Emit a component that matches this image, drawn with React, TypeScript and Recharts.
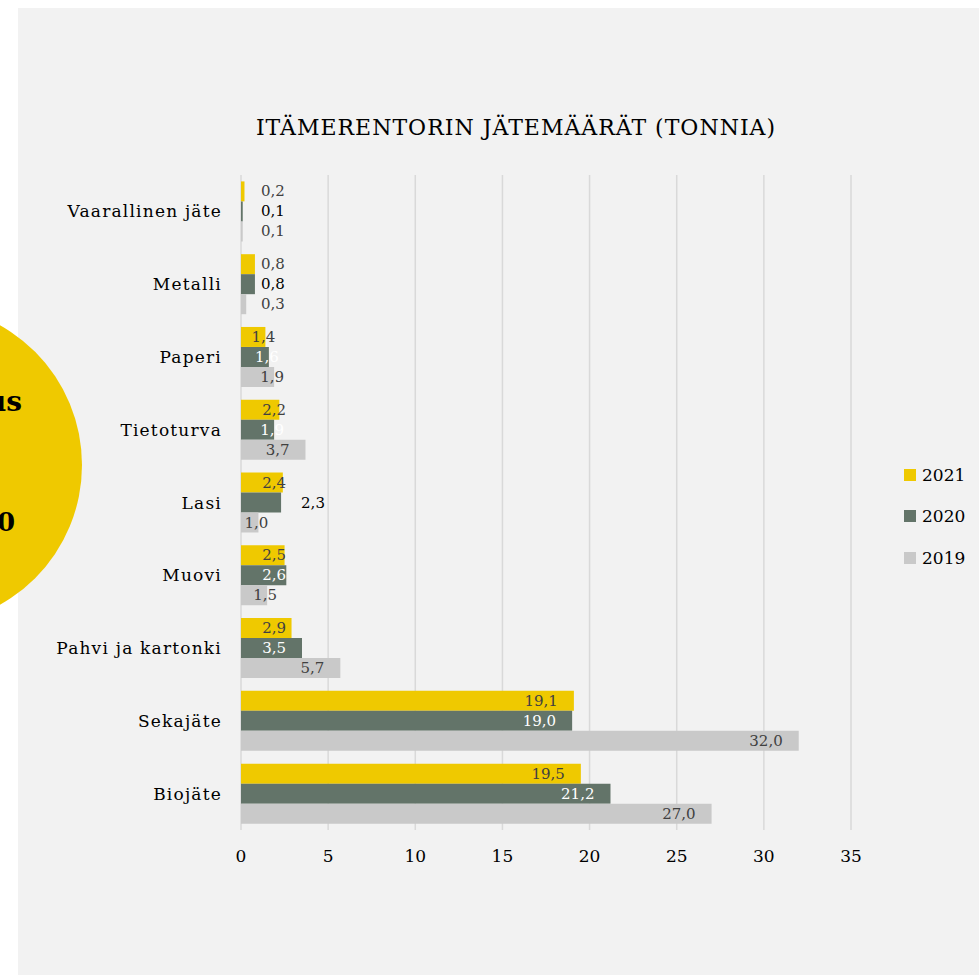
import React from 'react';
import { BarChart, Bar, XAxis, YAxis, CartesianGrid, Legend, LabelList } from 'recharts';

const categories = ['Vaarallinen jäte', 'Metalli', 'Paperi', 'Tietoturva', 'Lasi', 'Muovi', 'Pahvi ja kartonki', 'Sekajäte', 'Biojäte'];
const values2021 = [0.2, 0.8, 1.4, 2.2, 2.4, 2.5, 2.9, 19.1, 19.5];
const values2020 = [0.1, 0.8, 1.6, 1.9, 2.3, 2.6, 3.5, 19.0, 21.2];
const values2019 = [0.1, 0.3, 1.9, 3.7, 1.0, 1.5, 5.7, 32.0, 27.0];
const xTicks = [0, 5, 10, 15, 20, 25, 30, 35];
const title = 'ITÄMERENTORIN JÄTEMÄÄRÄT (TONNIA)';
const legendOrder = ['2021', '2020', '2019'];

const data = categories.map((name, i) => ({
  name,
  y2021: values2021[i],
  y2020: values2020[i],
  y2019: values2019[i],
}));

const FONT = '"DejaVu Serif", serif';
const YELLOW = '#EFC900';
const DARK = '#637469';
const LIGHT = '#C9C9C9';

// labels Excel pushed outside the bar (series:index)
const OUTSIDE = new Set(['2020:4']);

const makeLabel = (series: string, insideColor: string, outsideColor: string) => (props: any) => {
  const vb = props.viewBox || props;
  const x0 = Number(vb.x);
  const end = x0 + Number(vb.width);
  const cy = Number(vb.y) + Number(vb.height) / 2;
  const v = Number(props.value);
  const text = v.toFixed(1).replace('.', ',');
  const outside = v < 1 || OUTSIDE.has(`${series}:${props.index}`);
  let x = 0;
  let anchor: 'start' | 'middle' | 'end' = 'end';
  let fill = insideColor;
  if (outside) {
    x = (v < 1 ? x0 : end) + 20;
    anchor = 'start';
    fill = outsideColor;
  } else if (v < 2) {
    x = end - 2;
    anchor = 'middle';
  } else {
    x = Math.max(end - 16, x0 + 45);
  }
  return (
    <text x={x} y={cy} textAnchor={anchor} dominantBaseline="central" fill={fill} fontSize={15} fontFamily={FONT}>
      {text}
    </text>
  );
};

const renderLegend = (props: any) => {
  const items = (props.payload || []).slice().sort(
    (a: any, b: any) => legendOrder.indexOf(String(a.value)) - legendOrder.indexOf(String(b.value)),
  );
  return (
    <div style={{ fontFamily: FONT }}>
      {items.map((it: any) => (
        <div key={it.value} style={{ display: 'flex', alignItems: 'center', height: 41.5 }}>
          <span style={{ width: 12, height: 12, background: it.color, display: 'inline-block', marginRight: 6 }} />
          <span style={{ fontSize: 17, color: '#000' }}>{it.value}</span>
        </div>
      ))}
    </div>
  );
};

export default function App() {
  return (
    <div style={{ position: 'absolute', left: 0, top: 0, width: 979, height: 975, background: '#fff', overflow: 'hidden' }}>
      <div style={{ position: 'absolute', left: 18, top: 8, right: 0, bottom: 0, background: '#F2F2F2' }} />
      <svg width={979} height={975} style={{ position: 'absolute', left: 0, top: 0 }}>
        <circle cx={-78} cy={465} r={160} fill={YELLOW} />
        <text x={22} y={411} textAnchor="end" fontFamily={FONT} fontWeight="bold" fontSize={28} fill="#000">us</text>
        <text x={15} y={531} textAnchor="end" fontFamily={FONT} fontWeight="bold" fontSize={26} fill="#000">0</text>
      </svg>
      <div style={{ position: 'absolute', left: 0, top: 115, width: 1032, textAlign: 'center', fontFamily: FONT, fontSize: 22, letterSpacing: 1, color: '#000', lineHeight: '26px' }}>
        {title}
      </div>
      <div style={{ position: 'absolute', left: 0, top: 0 }}>
        <BarChart
          width={979}
          height={975}
          data={data}
          layout="vertical"
          margin={{ top: 175, right: 128, bottom: 105, left: 0 }}
          barCategoryGap="8.8%"
          barGap={0}
        >
          <CartesianGrid horizontal={false} stroke="#D9D9D9" strokeWidth={1.5} />
          <XAxis
            type="number"
            domain={[0, 35]}
            ticks={xTicks}
            height={40}
            axisLine={false}
            tickLine={false}
            tickSize={0}
            tickMargin={20}
            tick={{ fill: '#000', fontSize: 17, fontFamily: FONT }}
          />
          <YAxis
            type="category"
            dataKey="name"
            width={241}
            axisLine={false}
            tickLine={false}
            tickSize={0}
            tickMargin={19}
            tick={{ fill: '#000', fontSize: 17, fontFamily: FONT, letterSpacing: 1.2 }}
          />
          <Legend
            layout="vertical"
            align="center"
            verticalAlign="middle"
            content={renderLegend}
            wrapperStyle={{ left: 904, top: 454, width: 75, height: 125 }}
          />
          <Bar dataKey="y2021" name="2021" fill={YELLOW} isAnimationActive={false}>
            <LabelList dataKey="y2021" content={makeLabel('2021', '#404040', '#404040')} />
          </Bar>
          <Bar dataKey="y2020" name="2020" fill={DARK} isAnimationActive={false}>
            <LabelList dataKey="y2020" content={makeLabel('2020', '#FFFFFF', '#000000')} />
          </Bar>
          <Bar dataKey="y2019" name="2019" fill={LIGHT} isAnimationActive={false}>
            <LabelList dataKey="y2019" content={makeLabel('2019', '#404040', '#404040')} />
          </Bar>
        </BarChart>
      </div>
    </div>
  );
}
